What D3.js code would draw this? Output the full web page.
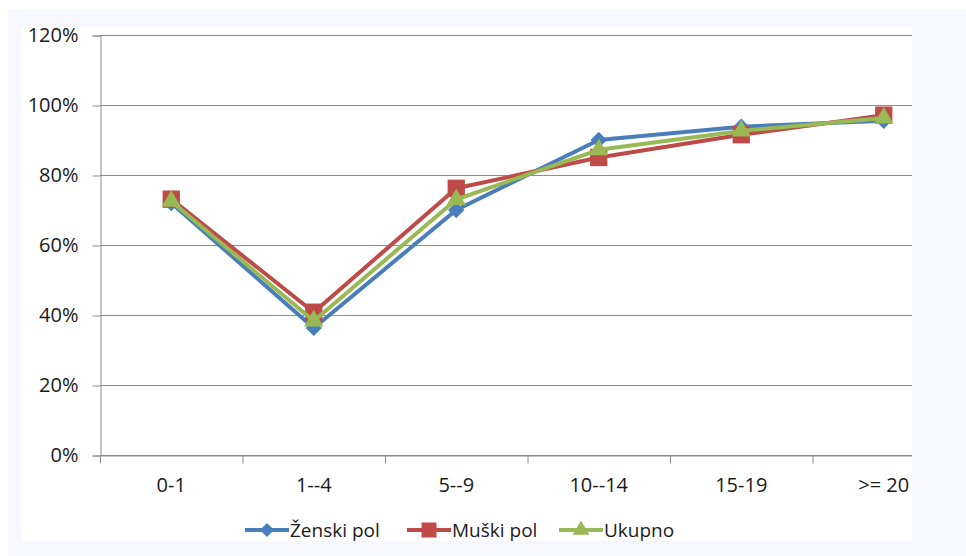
<!DOCTYPE html>
<html>
<head>
<meta charset="utf-8">
<script src="https://cdn.jsdelivr.net/npm/d3@7"></script>
<style>
  body { margin: 0; background: #fff; }
  text { font-family: "Open Sans", "Noto Sans", sans-serif; fill: #1a1a1a; }
</style>
</head>
<body>
<svg id="chart" width="966" height="556"></svg>
<script>
// ---------------- data ----------------
var categories = ["0-1", "1--4", "5--9", "10--14", "15-19", ">= 20"];
var zenski = [72, 36.3, 70, 90, 93.8, 95.5];
var muski = [73.1, 40.8, 76.2, 85, 91.5, 97.1];
var ukupno = [72.5, 38.3, 73, 87.2, 92.6, 96.3];
var yTicks = [0, 20, 40, 60, 80, 100, 120];

var series = [
  { name: "Ženski pol", values: zenski, color: "#4a7ebb", marker: "diamond" },
  { name: "Muški pol", values: muski, color: "#be4b48", marker: "square" },
  { name: "Ukupno", values: ukupno, color: "#98b954", marker: "triangle" }
];

// ---------------- frame ----------------
var svg = d3.select("#chart");
svg.append("rect").attr("x", 8).attr("y", 10).attr("width", 958).attr("height", 546).attr("fill", "#f7f8fd");
svg.append("rect").attr("x", 21).attr("y", 27).attr("width", 891).attr("height", 514).attr("fill", "#fff");

svg.append("clipPath").attr("id", "clipper")
  .append("rect").attr("x", 21).attr("y", 27).attr("width", 891).attr("height", 514);

var plotLeft = 100, plotTop = 35, plotW = 855, plotH = 420;
var axisFont = 20, legendFont = 19;
var g = svg.append("g").attr("clip-path", "url(#clipper)");

var x = d3.scaleBand().domain(categories).range([plotLeft, plotLeft + plotW]);
var y = d3.scaleLinear().domain([0, 120]).range([plotTop + plotH, plotTop]);

// gridlines
g.append("g").selectAll("line").data(yTicks).join("line")
  .attr("x1", plotLeft).attr("x2", plotLeft + plotW)
  .attr("y1", function(d){ return y(d) + 0.5; }).attr("y2", function(d){ return y(d) + 0.5; })
  .attr("stroke", "#8c8c8c").attr("stroke-width", 1);

// y axis
var yAxis = g.append("g").attr("transform", "translate(" + (plotLeft + 0.5) + ",0.5)")
  .call(d3.axisLeft(y).tickValues(yTicks).tickSize(8).tickPadding(14)
    .tickFormat(function(d){ return d + "%"; }));
yAxis.select(".domain").attr("stroke", "#8c8c8c");
yAxis.selectAll(".tick line").attr("stroke", "#8c8c8c");
yAxis.selectAll("text").attr("font-size", axisFont).style("fill", "#1a1a1a");

// x axis
var xAxis = g.append("g").attr("transform", "translate(0," + (plotTop + plotH + 0.5) + ")")
  .call(d3.axisBottom(x).tickSize(0).tickPadding(22));
xAxis.select(".domain").attr("stroke", "#8c8c8c");
xAxis.selectAll("text").attr("font-size", axisFont).style("fill", "#1a1a1a");
// ticks between categories
xAxis.append("g").selectAll("line").data(d3.range(categories.length + 1)).join("line")
  .attr("x1", function(i){ return plotLeft + i * x.step() + 0.5; })
  .attr("x2", function(i){ return plotLeft + i * x.step() + 0.5; })
  .attr("y1", 0).attr("y2", 8).attr("stroke", "#8c8c8c");

// ---------------- lines ----------------
var cx = function(d, i){ return x(categories[i]) + x.bandwidth() / 2; };
var line = d3.line().x(cx).y(function(d){ return y(d); });

function markerPath(type, s) {
  var sym = type === "diamond" ? d3.symbolDiamond2 : type === "square" ? d3.symbolSquare : d3.symbolTriangle;
  return d3.symbol().type(sym).size(s)();
}
var markerSize = { diamond: 170, square: 300, triangle: 160 };

series.forEach(function(s) {
  var sg = g.append("g");
  sg.append("path").datum(s.values)
    .attr("d", line).attr("fill", "none")
    .attr("stroke", s.color).attr("stroke-width", 4).attr("stroke-linejoin", "round");
  sg.selectAll("path.m").data(s.values).join("path").attr("class", "m")
    .attr("transform", function(d, i){ return "translate(" + cx(d, i) + "," + y(d) + ")"; })
    .attr("d", markerPath(s.marker, markerSize[s.marker]))
    .attr("fill", s.color);
});

// ---------------- legend ----------------
var legX = [245, 407, 559];
var leg = svg.append("g");
series.forEach(function(s, i) {
  var lg = leg.append("g").attr("transform", "translate(" + legX[i] + ",530)");
  lg.append("line").attr("x1", 0).attr("x2", 44).attr("y1", 0).attr("y2", 0)
    .attr("stroke", s.color).attr("stroke-width", 4);
  lg.append("path").attr("transform", "translate(22,0)")
    .attr("d", markerPath(s.marker, markerSize[s.marker] * 0.75)).attr("fill", s.color);
  lg.append("text").attr("x", 45).attr("y", 7).attr("font-size", legendFont).text(s.name);
});
</script>
</body>
</html>
